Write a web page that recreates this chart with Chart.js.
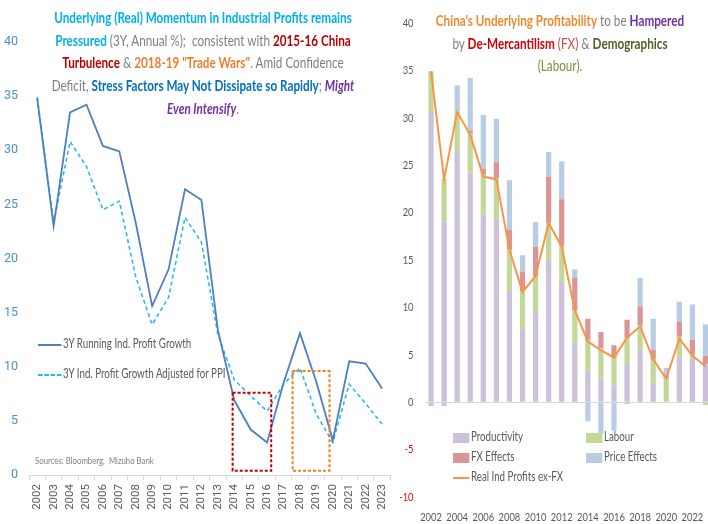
<!DOCTYPE html>
<html lang="en">
<head>
<meta charset="UTF-8">
<title>China Industrial Profits</title>
<script src="https://cdn.jsdelivr.net/npm/chart.js"></script>
<style>
    body {
        margin: 0;
        width: 708px;
        height: 524px;
        overflow: hidden;
        background: #ffffff;
        font-family: Lato, "Open Sans", sans-serif;
        position: relative;
    }
    .box { position: absolute; }
    .title {
        position: absolute;
        text-align: center;
        font-size: 15px;
        line-height: 22.7px;
        color: #7f7f7f;
        transform: scaleX(0.78);
        transform-origin: 50% 0;
        white-space: nowrap;
    }
    .title b { font-weight: 700; }
    .sky { color: #00b0f0; }
    .red { color: #c00000; }
    .orange { color: #ed7d31; }
    .blue { color: #0070c0; }
    .purple { color: #7030a0; font-style: italic; }
    .leg {
        position: absolute;
        font-size: 12.5px;
        color: #595959;
        white-space: nowrap;
        transform: scaleX(0.78);
        transform-origin: 0 50%;
        line-height: 16px;
    }
    .leg span.ln { display: inline-block; width: 30px; vertical-align: middle; margin-right: 2px; }
    .leg span.sw { display: inline-block; width: 21px; height: 10px; vertical-align: middle; margin-right: 2px; }
</style>
</head>
<body>
<div class="box" style="left:0;top:0;width:400px;height:524px"><canvas id="leftChart" width="400" height="524"></canvas></div>
<div class="box" style="left:400px;top:0;width:312px;height:524px"><canvas id="rightChart" width="312" height="524"></canvas></div>

<div class="title" style="left:-47px;top:6px;width:500px">
    <div><b class="sky">Underlying (Real) Momentum in Industrial Profits remains</b></div>
    <div><b class="sky">Pressured</b> (3Y, Annual %);&nbsp; consistent with <b class="red">2015-16 China</b></div>
    <div><b class="red">Turbulence</b> &amp; <b class="orange">2018-19 "Trade Wars"</b>. Amid Confidence</div>
    <div>Deficit, <b class="blue">Stress Factors May Not Dissipate so Rapidly</b>; <b class="purple">Might</b></div>
    <div><b class="purple">Even Intensify</b>.</div>
</div>

<div class="title" style="left:360px;top:9px;width:400px">
    <div><b style="color:#f08a32">China's Underlying Profitability</b> to be <b style="color:#7030a0">Hampered</b></div>
    <div>by <b style="color:#d00000">De-Mercantilism</b> <span style="color:#c0504d">(FX)</span> &amp; <b style="color:#4f6228">Demographics</b></div>
    <div><span style="color:#77933c">(Labour).</span></div>
</div>

<div class="leg" style="left:38px;top:336px"><span class="ln" style="border-top:2px solid #4f7fbf"></span>3Y Running Ind. Profit Growth</div>
<div class="leg" style="left:38px;top:366px"><span class="ln" style="border-top:2px dashed #2db7f0"></span>3Y Ind. Profit Growth Adjusted for PPI</div>
<div class="leg" style="left:35px;top:452px;font-size:10px;color:#808080">Sources: Bloomberg,&nbsp; Mizuho Bank</div>

<div class="leg" style="left:453px;top:429px"><span class="sw" style="background:#ccc0da"></span>Productivity</div>
<div class="leg" style="left:586px;top:429px"><span class="sw" style="background:#c4d79b"></span>Labour</div>
<div class="leg" style="left:453px;top:449px"><span class="sw" style="background:#da9694"></span>FX Effects</div>
<div class="leg" style="left:586px;top:449px"><span class="sw" style="background:#b8cce4"></span>Price Effects</div>
<div class="leg" style="left:453px;top:469px"><span class="ln" style="width:21px;border-top:2px solid #f79646"></span>Real Ind Profits ex-FX</div>

<script>
    // years on both panels
    const years = ['2002', '2003', '2004', '2005', '2006', '2007', '2008', '2009', '2010', '2011', '2012',
        '2013', '2014', '2015', '2016', '2017', '2018', '2019', '2020', '2021', '2022', '2023'];

    // left panel: 3Y annualised profit growth (%)
    const runningGrowth = [34.8, 23.0, 33.5, 34.2, 30.4, 29.9, 23.3, 15.6, 19.0, 26.4, 25.4,
        13.4, 6.9, 4.2, 3.0, 8.5, 13.1, 8.6, 3.2, 10.5, 10.3, 8.0];
    const ppiAdjusted = [34.9, 23.3, 30.8, 28.5, 24.5, 25.3, 18.3, 13.9, 16.4, 23.8, 21.5,
        13.0, 8.8, 7.3, 5.9, 8.4, 9.9, 5.6, 3.0, 8.4, 6.6, 4.7];
    const leftTicks = [0, 5, 10, 15, 20, 25, 30, 35, 40];

    // highlighted episodes (first year, last year, top value)
    const episodes = [
        { from: 2014 - 0.1, to: 2016 + 0.25, low: 0.4, high: 7.6, color: '#c00000' },
        { from: 2018 - 0.45, to: 2020 - 0.2, low: 0.4, high: 9.6, color: '#f07d1e' }
    ];

    // right panel: decomposition
    const productivity = [30.6, 19.1, 26.5, 24.2, 19.8, 19.3, 11.8, 7.7, 9.5, 15.0, 12.7,
        6.2, 3.2, 2.5, 1.8, 4.1, 5.5, 2.0, 0, 4.8, 4.6, 4.0];
    const labour = [4.3, 4.5, 4.2, 4.2, 4.2, 4.3, 4.3, 4.0, 3.8, 4.0, 3.8,
        3.5, 3.4, 3.2, 3.0, 2.7, 2.6, 2.5, 2.5, 2.1, 0.4, -0.3];
    const fxEffects = [0, 0, 0, 0.2, 0.6, 1.7, 2.1, 2.1, 3.1, 4.8, 4.9,
        3.4, 2.2, 1.7, 1.2, 1.9, 2.0, 1.0, 0.3, 1.6, 1.6, 0.9];
    const priceEffects = [-0.4, -0.4, 2.7, 5.6, 5.7, 4.6, 5.2, 1.7, 2.6, 2.6, 4.0,
        0.9, -2.0, -3.3, -3.0, -0.2, 3.0, 3.3, 0.8, 2.1, 3.7, 3.3];
    const realExFx = [34.9, 23.5, 30.6, 28.2, 23.8, 23.5, 16.1, 11.6, 13.3, 18.9, 16.4,
        9.7, 6.4, 5.5, 4.7, 6.8, 8.0, 4.5, 2.5, 6.7, 4.9, 3.8];
    const rightTicks = [-10, -5, 0, 5, 10, 15, 20, 25, 30, 35, 40];

    const tickFont = { family: 'Roboto', size: 11.5 };

    // dashed boxes drawn with the chart's own scales
    const episodeBoxes = {
        id: 'episodeBoxes',
        afterDatasetsDraw(chart) {
            const { ctx, scales: { x, y } } = chart;
            ctx.save();
            ctx.lineWidth = 2;
            ctx.setLineDash([3, 2]);
            episodes.forEach(e => {
                const x0 = x.getPixelForValue(e.from - 2002);
                const x1 = x.getPixelForValue(e.to - 2002);
                const y0 = y.getPixelForValue(e.high);
                const y1 = y.getPixelForValue(e.low);
                ctx.strokeStyle = e.color;
                ctx.strokeRect(x0, y0, x1 - x0, y1 - y0);
            });
            ctx.restore();
        }
    };

    // narrow (condensed) tick labels for the right panel, placed by its scales
    const narrowTicks = {
        id: 'narrowTicks',
        afterDraw(chart) {
            const { ctx, scales: { x, y } } = chart;
            const squeeze = 0.78;
            ctx.save();
            ctx.font = '12px Lato';
            ctx.textBaseline = 'middle';
            ctx.fillStyle = '#595959';
            ctx.textAlign = 'center';
            x.ticks.forEach((t, i) => {
                if (i % 2) return;
                ctx.save();
                ctx.translate(x.getPixelForTick(i), x.top + 20);
                ctx.scale(squeeze, 1);
                ctx.fillText(years[i], 0, 0);
                ctx.restore();
            });
            ctx.textAlign = 'right';
            y.ticks.forEach((t, i) => {
                ctx.save();
                ctx.fillStyle = t.value < 0 ? '#ff0000' : '#595959';
                ctx.translate(y.right - 11, y.getPixelForTick(i));
                ctx.scale(squeeze, 1);
                ctx.fillText(String(t.value), 0, 0);
                ctx.restore();
            });
            ctx.restore();
        }
    };

    new Chart(document.getElementById('leftChart'), {
        type: 'line',
        data: {
            labels: years,
            datasets: [{
                label: '3Y Running Ind. Profit Growth',
                data: runningGrowth,
                borderColor: '#4f7fbf',
                borderWidth: 1.8,
                pointRadius: 0,
                tension: 0
            }, {
                label: '3Y Ind. Profit Growth Adjusted for PPI',
                data: ppiAdjusted,
                borderColor: '#2db7f0',
                borderWidth: 1.6,
                borderDash: [4, 3],
                pointRadius: 0,
                tension: 0
            }]
        },
        options: {
            responsive: false,
            animation: false,
            layout: { padding: { top: 42, right: 6, left: 0, bottom: 0 } },
            plugins: { legend: { display: false }, tooltip: { enabled: false } },
            scales: {
                x: {
                    offset: true,
                    grid: { drawOnChartArea: false, offset: true, tickLength: 5, color: '#d9d9d9' },
                    border: { color: '#d9d9d9' },
                    ticks: { autoSkip: false, minRotation: 90, maxRotation: 90, color: '#595959', font: tickFont, padding: 4 },
                    afterFit(s) { s.height = 49; }
                },
                y: {
                    min: 0,
                    max: 40,
                    afterBuildTicks(s) { s.ticks = leftTicks.map(v => ({ value: v })); },
                    ticks: { color: '#4a8fd0', font: { family: 'Roboto', size: 12.5 }, padding: 11 },
                    grid: { display: false, drawTicks: false },
                    border: { display: false },
                    afterFit(s) { s.width = 29; }
                }
            }
        },
        plugins: [episodeBoxes]
    });

    new Chart(document.getElementById('rightChart'), {
        type: 'bar',
        data: {
            labels: years,
            datasets: [{
                type: 'line',
                label: 'Real Ind Profits ex-FX',
                data: realExFx,
                borderColor: '#f79646',
                borderWidth: 2,
                pointRadius: 0,
                tension: 0,
                stack: 'line',
                order: 0
            }, {
                label: 'Productivity',
                data: productivity,
                backgroundColor: '#ccc0da',
                stack: 'bars',
                order: 1
            }, {
                label: 'Labour',
                data: labour,
                backgroundColor: '#c4d79b',
                stack: 'bars',
                order: 1
            }, {
                label: 'FX Effects',
                data: fxEffects,
                backgroundColor: '#da9694',
                stack: 'bars',
                order: 1
            }, {
                label: 'Price Effects',
                data: priceEffects,
                backgroundColor: '#b8cce4',
                stack: 'bars',
                order: 1
            }]
        },
        options: {
            responsive: false,
            animation: false,
            layout: { padding: { top: 23, right: 0, left: 0, bottom: 0 } },
            datasets: { bar: { barPercentage: 0.4, categoryPercentage: 1 } },
            plugins: { legend: { display: false }, tooltip: { enabled: false } },
            scales: {
                x: {
                    stacked: true,
                    offset: true,
                    grid: { display: false, drawTicks: false },
                    border: { display: false },
                    ticks: { display: false, autoSkip: false },
                    afterFit(s) { s.height = 27; }
                },
                y: {
                    stacked: true,
                    min: -10,
                    max: 40,
                    afterBuildTicks(s) { s.ticks = rightTicks.map(v => ({ value: v })); },
                    ticks: { display: false },
                    grid: {
                        drawTicks: false,
                        color: c => (c.tick && c.tick.value === 0 ? '#d9d9d9' : 'rgba(0,0,0,0)')
                    },
                    border: { display: false },
                    afterFit(s) { s.width = 24.5; }
                }
            }
        },
        plugins: [narrowTicks]
    });
</script>
</body>
</html>
